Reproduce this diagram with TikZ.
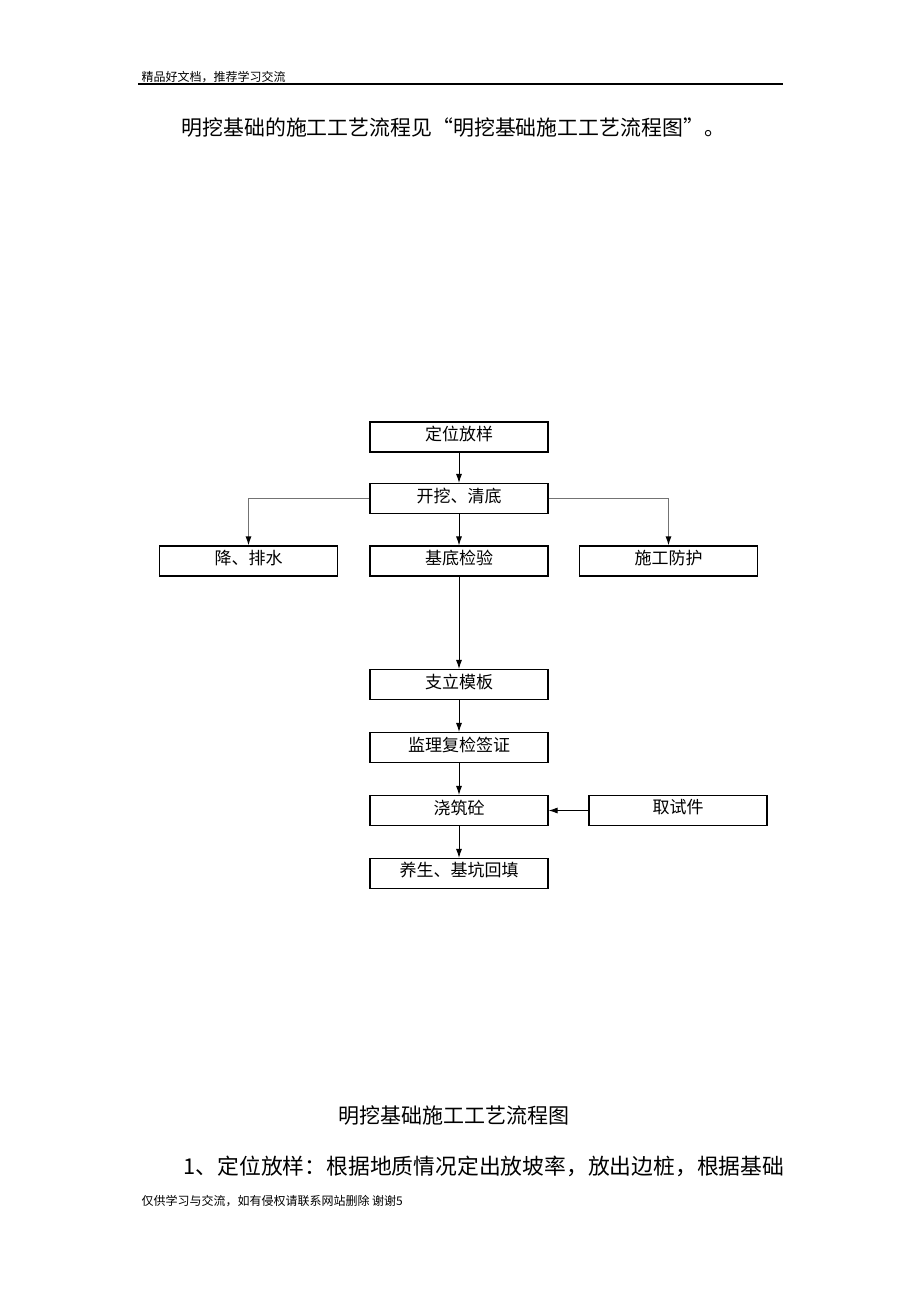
\documentclass[tikz,border=0pt]{standalone}
\usepackage{fontspec}
\setmainfont{Noto Sans CJK SC}
\usetikzlibrary{arrows.meta}

\begin{document}
\begin{tikzpicture}[x=1pt,y=-1pt,
  box/.style={draw,line width=1.1pt,minimum width=178pt,minimum height=30pt,inner sep=0pt,font=\fontsize{17}{20}\selectfont},
  lbl/.style={font=\fontsize{17}{20}\selectfont,yshift=3pt},
  flow/.style={line width=0.9pt,-{Latex[length=9pt,width=6pt]}},
  side/.style={line width=1.2pt,draw=black!55,-{Latex[length=9pt,width=6pt,fill=black,color=black]}}]
\useasboundingbox (0,0) rectangle (920,1302);
% page header
\node[anchor=base west,font=\fontsize{12}{14}\selectfont] (hd) at (138,81) {精品好文档，推荐学习交流};
\draw[line width=1.2pt] (138,84) -- (783,84);
\node[anchor=west,font=\fontsize{20.9}{25}\selectfont] (intro) at (178,128) {明挖基础的施工工艺流程见“明挖基础施工工艺流程图”。};
% flow chart boxes
\node[box] (fw) at (459,437) {};
\node[box] (kw) at (459,498.5) {};
\node[box] (jps) at (248.5,561) {};
\node[box] (jd) at (459,561) {};
\node[box] (sg) at (668.5,561) {};
\node[box] (zl) at (459,684.5) {};
\node[box] (jl) at (459,747.5) {};
\node[box] (jz) at (459,810.5) {};
\node[box] (qs) at (678,810.5) {};
\node[box] (ys) at (459,873.5) {};
% box texts, set a little high as in the original
\node[lbl] (tfw) at (fw) {定位放样};
\node[lbl] (tkw) at (kw) {开挖、清底};
\node[lbl] (tjps) at (jps) {降、排水};
\node[lbl] (tjd) at (jd) {基底检验};
\node[lbl] (tsg) at (sg) {施工防护};
\node[lbl] (tzl) at (zl) {支立模板};
\node[lbl] (tjl) at (jl) {监理复检签证};
\node[lbl] (tjz) at (jz) {浇筑砼};
\node[lbl] (tqs) at (qs) {取试件};
\node[lbl] (tys) at (ys) {养生、基坑回填};
% arrows
\draw[flow] (fw) -- (kw);
\draw[flow] (kw) -- (jd);
\draw[side] (kw.west) -| (jps.north);
\draw[side] (kw.east) -| (sg.north);
\draw[flow] (jd) -- (zl);
\draw[flow] (zl) -- (jl);
\draw[flow] (jl) -- (jz);
\draw[flow] (jz) -- (ys);
\draw[flow] (qs) -- (jz);
% caption and text below
\node[font=\fontsize{21}{25}\selectfont] (cap) at (454,1115) {明挖基础施工工艺流程图};
\node[anchor=west,font=\fontsize{21.8}{26}\selectfont] (para) at (180,1166) {1、定位放样：根据地质情况定出放坡率，放出边桩，根据基础};
\node[anchor=base west,font=\fontsize{12}{14}\selectfont] (ft) at (138,1205) {仅供学习与交流，如有侵权请联系网站删除\ 谢谢5};
\end{tikzpicture}
\end{document}
